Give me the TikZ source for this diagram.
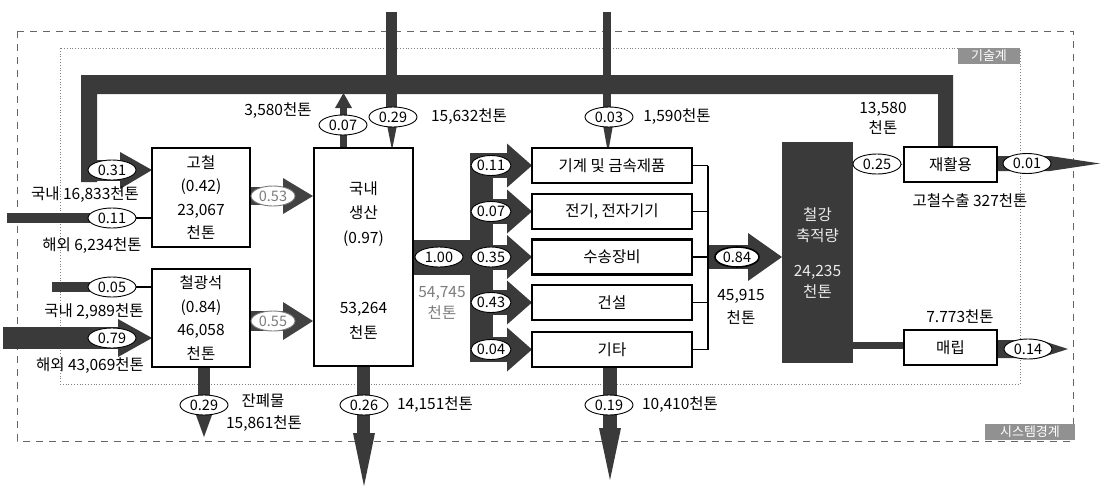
\documentclass[tikz,border=0pt]{standalone}
\usepackage{fontspec}
\setmainfont{Noto Sans CJK KR}
\usetikzlibrary{shapes.geometric, arrows.meta}
\definecolor{flowc}{RGB}{58,58,58}
\definecolor{flowm}{RGB}{66,66,66}
\definecolor{lblc}{RGB}{145,145,145}
\definecolor{gtext}{RGB}{125,125,125}
\newcommand\tfont{\fontsize{15.5}{18}\selectfont}
\newcommand\efont{\fontsize{14.5}{16}\selectfont}
\newcommand\bxfont{\fontsize{15.5}{23.5}\selectfont}
\tikzset{
  box/.style={draw=black, line width=2.2pt, fill=white, inner sep=0pt, font=\tfont},
  sbox/.style={box, minimum width=160pt, minimum height=35pt},
  ell/.style={ellipse, draw=black, line width=0.9pt, fill=white, minimum width=48pt, minimum height=20pt, inner sep=0pt, font=\efont},
  sell/.style={ell, minimum width=40pt},
  gell/.style={ell, draw=gtext, text=gtext, minimum width=44pt},
  txt/.style={inner sep=0pt, font=\tfont},
  lbl/.style={fill=lblc, text=white, inner sep=0pt, minimum height=16pt, font=\fontsize{13}{14}\selectfont},
  thin/.style={line width=1.5pt, draw=black}
}
\begin{document}
\begin{tikzpicture}[x=1pt,y=-1pt]
\useasboundingbox (0,0) rectangle (1101,488);
\fill[white] (0,0) rectangle (1101,488);

% boundaries
\draw[gray!80!black, line width=0.8pt, dash pattern=on 7pt off 6pt] (17,31) rectangle (1073,441);
\draw[gray, line width=0.8pt, dotted] (60,48) rectangle (1020,384);
\node[lbl, minimum width=62pt] (lt) at (989,56) {기술계};
\node[lbl, minimum width=90pt] (ls) at (1030,432) {시스템경계};

% recycling band
\fill[flowc] (81,182) -- (81,75) -- (953,75) -- (953,147) -- (938,147) -- (938,94) -- (97,94) -- (97,182) -- cycle;
\fill[flowc] (81,160) rectangle (122,181);
\fill[flowc] (120,152) -- (152,170) -- (120,189) -- cycle;

% top inputs / outputs
\fill[flowc] (386,12) rectangle (397,108);
\fill[flowc] (387,125) -- (397,125) -- (392,150) -- cycle;
\fill[flowc] (603,12) rectangle (611,108);
\fill[flowc] (603,125) -- (613,125) -- (608,153) -- cycle;
\fill[flowc] (340,107) rectangle (347,148);
\fill[flowc] (335,108) -- (343.5,93) -- (352,108) -- cycle;

% left inputs
\fill[flowc] (7,213) rectangle (92,223);
\fill[flowc] (52,282) rectangle (92,292);
\fill[flowc] (3,327) rectangle (122,349);
\fill[flowc] (118,319) -- (152,338) -- (118,357) -- cycle;

% to domestic production
\fill[flowm] (250,187) rectangle (285,205);
\fill[flowm] (283,178) -- (313,196) -- (283,214) -- cycle;
\fill[flowm] (250,311) rectangle (285,331);
\fill[flowm] (283,302) -- (313,321) -- (283,340) -- cycle;

% distribution
\fill[flowc] (413,240) rectangle (482,275);
\fill[flowc] (470,153) rectangle (493,362);
\foreach \y in {165.5,211.5,257,302.5,349.5}{
  \fill[flowc] (470,\y-12.5) rectangle (510,\y+12.5);
  \fill[flowc] (507,\y-22) -- (532,\y) -- (507,\y+22) -- cycle;
}

% collector arrow
\fill[flowc] (707,245) rectangle (750,269);
\fill[flowc] (748,233) -- (782,257) -- (748,281) -- cycle;

% down flows
\fill[flowc] (198,367) rectangle (210,416);
\fill[flowc] (196,415) -- (212,415) -- (204,437) -- cycle;
\fill[flowc] (357,366) rectangle (370,435);
\fill[flowc] (353,433) -- (375,433) -- (364,486) -- cycle;
\fill[flowc] (603,367) rectangle (617,430);
\fill[flowc] (599,428) -- (621,428) -- (610,480) -- cycle;

% right side flows
\fill[flowc] (853,341.5) rectangle (904,348.5);
\fill[flowc] (997,156) -- (1050,156) -- (1100,163.5) -- (1050,171) -- (997,171) -- cycle;
\fill[flowc] (997,340) -- (1040,340) -- (1068,349) -- (1040,358) -- (997,358) -- cycle;

% boxes
\node[box, minimum width=98pt, minimum height=99pt, align=center, font=\bxfont] (gc) at (201,197.5) {고철\\(0.42)\\23,067\\천톤};
\node[box, minimum width=98pt, minimum height=98pt, align=center, font=\bxfont] (ore) at (201,318) {철광석\\(0.84)\\46,058\\천톤};
\node[box, minimum width=99pt, minimum height=218pt] (dp) at (363.5,257) {};
\node[txt, align=center, font=\fontsize{15.5}{24.5}\selectfont] (dpt) at (363.5,260.5) {국내\\생산\\(0.97)\\[46pt]53,264\\천톤};

\node[sbox] (s1) at (612,165.5) {기계 및 금속제품};
\node[sbox] (s2) at (612,211.5) {전기, 전자기기};
\node[sbox] (s3) at (612,257) {수송장비};
\node[sbox] (s4) at (612,302.5) {건설};
\node[sbox] (s5) at (612,349.5) {기타};

\coordinate (cb) at (708,257);
\draw[thin] (s1.east) -- (cb |- s1.east);
\draw[thin] (s2.east) -- (cb |- s2.east);
\draw[thin] (s3.east) -- (cb |- s3.east);
\draw[thin] (s4.east) -- (cb |- s4.east);
\draw[thin] (s5.east) -- (cb |- s5.east);
\draw[thin] (cb |- s1.east) -- (cb |- s5.east);

\node[fill=flowc, minimum width=71pt, minimum height=221pt, inner sep=0pt] (st) at (817.5,252.5) {};
\node[txt, text=white!92!black, align=center, font=\fontsize{15.5}{21}\selectfont] (stt) at (817.5,253) {철강\\축적량\\[14pt]24,235\\천톤};

\node[box, minimum width=93pt, minimum height=35pt] (rc) at (950.5,164.5) {재활용};
\node[box, minimum width=93pt, minimum height=35pt] (lf) at (950.5,347.5) {매립};
\draw[line width=1.3pt, -{Latex[length=6pt,width=5pt]}] (st.east |- rc.west) -- (rc.west);

% ellipses
\node[ell] (e031) at (112,170) {0.31};
\node[ell] (e011) at (112,218) {0.11};
\node[ell] (e005) at (112,287) {0.05};
\node[ell] (e079) at (112,338) {0.79};
\draw[thin] (e011.east) -- (gc.west |- e011.east);
\draw[thin] (e005.east) -- (ore.west |- e005.east);
\node[gell] (e053) at (273,196) {0.53};
\node[gell] (e055) at (273,321) {0.55};
\node[ell] (e007) at (343,125) {0.07};
\node[ell] (e029a) at (393,117) {0.29};
\node[ell] (e003) at (609,117) {0.03};
\node[ell] (e100) at (439,257) {1.00};
\node[sell] (e011b) at (491,165.5) {0.11};
\node[sell] (e007b) at (491,211.5) {0.07};
\node[sell] (e035) at (491,257) {0.35};
\node[sell] (e043) at (491,302.5) {0.43};
\node[sell] (e004) at (491,349.5) {0.04};
\node[ell, line width=1.6pt, minimum width=44pt] (e084) at (737,257) {0.84};
\node[ell] (e025) at (877,164) {0.25};
\node[ell] (e001) at (1027,163.5) {0.01};
\node[ell] (e014) at (1028,349) {0.14};
\node[ell] (e029b) at (204,405) {0.29};
\node[ell] (e026) at (364,405) {0.26};
\node[ell] (e019) at (609,405) {0.19};

% texts
\node[txt] (t1) at (85,195) {국내 16,833천톤};
\node[txt] (t2) at (92,246) {해외 6,234천톤};
\node[txt] (t3) at (94,312) {국내 2,989천톤};
\node[txt] (t4) at (90,366) {해외 43,069천톤};
\node[txt] (t5) at (278,111) {3,580천톤};
\node[txt] (t6) at (469,117) {15,632천톤};
\node[txt] (t7) at (677,117) {1,590천톤};
\node[txt, text=gtext, align=center, font=\fontsize{15.5}{21}\selectfont] (t8) at (442,302.5) {54,745\\천톤};
\node[txt, align=center, font=\fontsize{15.5}{23}\selectfont] (t9) at (741,306.5) {45,915\\천톤};
\node[txt, align=center, font=\fontsize{15.5}{20}\selectfont] (t10) at (883,118) {13,580\\천톤};
\node[txt] (t11) at (970,201) {고철수출 327천톤};
\node[txt] (t12) at (960,317) {7.773천톤};
\node[txt] (t13) at (263,401) {잔폐물};
\node[txt] (t14) at (264,424) {15,861천톤};
\node[txt] (t15) at (435,405) {14,151천톤};
\node[txt] (t16) at (680,405) {10,410천톤};
\end{tikzpicture}
\end{document}
